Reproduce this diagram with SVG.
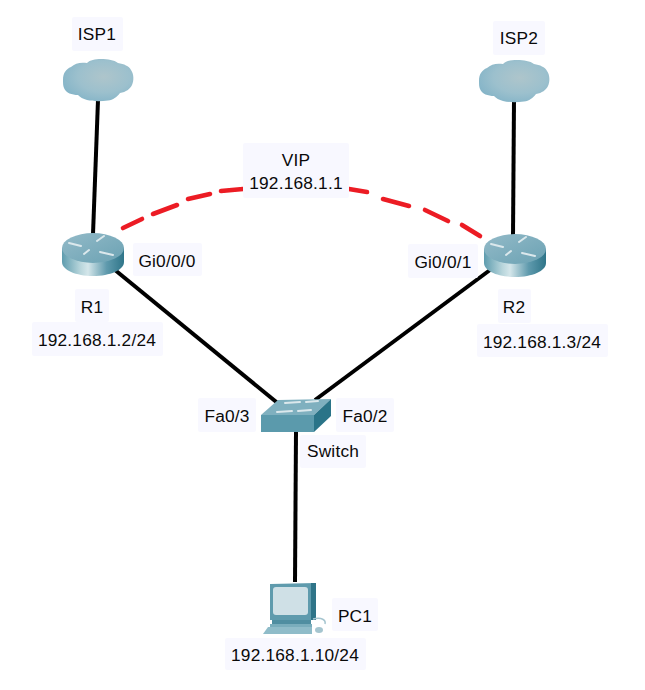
<svg xmlns="http://www.w3.org/2000/svg" width="645" height="690" viewBox="0 0 645 690">
<style>
text{font-family:"Liberation Sans",Arial,sans-serif;font-size:17.3px;fill:#0a0a0a;text-anchor:middle;letter-spacing:.2px}
.lb{fill:#f8f8ff}
.ln{stroke:#000;stroke-width:4;fill:none}
.ha{stroke:#dbe8ec;stroke-width:2;fill:none;stroke-linecap:round}
.dash{stroke:#ec1c24;stroke-width:4.6;stroke-linecap:round;fill:none}
</style>
<defs>
<radialGradient id="cg" cx=".58" cy=".42" r=".62"><stop offset="0" stop-color="#aec5cb"/><stop offset=".6" stop-color="#9cc0cd"/><stop offset="1" stop-color="#86b5c8"/></radialGradient>
<linearGradient id="rs" x1="0" x2="1" y1="0" y2="0"><stop offset="0" stop-color="#5e9cae"/><stop offset=".3" stop-color="#b9d6dc"/><stop offset=".42" stop-color="#d4e6ea"/><stop offset=".72" stop-color="#5f9aad"/><stop offset="1" stop-color="#2f7589"/></linearGradient>
<linearGradient id="rt" x1="0" x2="1" y1="0" y2="1"><stop offset="0" stop-color="#93bac8"/><stop offset="1" stop-color="#6ba2b3"/></linearGradient>
<g id="cloud">
<path fill="url(#cg)" d="M0 21C0 14 3 10 8 8C12 4 18 3 24 4C27 1 32 0 38 0C45 0 51 1 55 4C61 5 66 7 68 11C71 15 71 22 69 26C67 30 63 33 57 34C54 38 50 41 45 41.500C38 42.500 30 42.500 24 41C20 40 17 38 15 36C9 36 3 34 1 29C0 27 0 24 0 21Z"/>
</g>
<g id="router">
<path fill="url(#rs)" d="M0 15V29C0 37 14 43 31 43S62 37 62 29V15Z"/>
<ellipse cx="31" cy="15" rx="31" ry="15" fill="url(#rt)"/>
<path class="ha" d="M7 10L19 13M22 21L27 17M38 19L51 22M35 8L42 3"/>
</g>
</defs>
<g id="connectors">
<path class="ln" d="M98 100L93 234"/>
<path class="ln" d="M514 100L513 236"/>
<path class="ln" d="M115 270L280 405"/>
<path class="ln" d="M490 270L315 400"/>
<path class="ln" d="M296 432L295 582"/>
<path class="dash" d="M123 228L142 219M153 214L177 205M188 199L210 194M221 191L243 189"/>
<path class="dash" d="M349 189L367 192M383 199L409 206M425 210L448 221M462 225L480 236"/>
</g>
<g id="isp1"><rect class="lb" x="72" y="17" width="51" height="34" rx="2"/><text x="97" y="40">ISP1</text><use href="#cloud" x="63" y="59"/></g>
<g id="isp2"><rect class="lb" x="493" y="21" width="52" height="34" rx="2"/><text x="519" y="44">ISP2</text><use href="#cloud" x="479" y="60"/></g>
<g id="vip"><rect class="lb" x="243" y="143" width="106" height="55" rx="2"/><text x="296" y="166">VIP</text><text x="296" y="189">192.168.1.1</text></g>
<g id="r1"><use href="#router" x="62" y="233"/>
<rect class="lb" x="133" y="243" width="69" height="33" rx="2"/><text x="167" y="267">Gi0/0/0</text>
<rect class="lb" x="75" y="289" width="34" height="33" rx="2"/><text x="92" y="313">R1</text>
<rect class="lb" x="32" y="322" width="131" height="34" rx="2"/><text x="97" y="346">192.168.1.2/24</text></g>
<g id="r2"><use href="#router" x="484" y="234"/>
<rect class="lb" x="408" y="244" width="70" height="34" rx="2"/><text x="443" y="268">Gi0/0/1</text>
<rect class="lb" x="498" y="289" width="33" height="34" rx="2"/><text x="514" y="313">R2</text>
<rect class="lb" x="477" y="324" width="131" height="33" rx="2"/><text x="542" y="348">192.168.1.3/24</text></g>
<g id="switch">
<path fill="#7fb0bf" d="M261 415L278 400L331 399L314 415Z"/>
<path fill="#5b9aac" d="M261 415H314V432H261Z"/>
<path fill="#2a7488" d="M314 415L331 399V416L314 432Z"/>
<path class="ha" stroke-width="1.5" d="M285 403L300 402M277 412L292 411M306 402L318 401M298 411L311 410"/>
<rect class="lb" x="198" y="398" width="58" height="34" rx="2"/><text x="227" y="422">Fa0/3</text>
<rect class="lb" x="336" y="398" width="58" height="34" rx="2"/><text x="365" y="422">Fa0/2</text>
<rect class="lb" x="300" y="435" width="66" height="33" rx="2"/><text x="333" y="457">Switch</text></g>
<g id="pc1">
<path fill="#5f9bad" d="M270 584L316 583V620H270Z"/>
<path fill="#2f7488" d="M311 583H316V620H311Z"/>
<rect x="273" y="587" width="35" height="28" rx="3" fill="#cfe0e6"/>
<path fill="#4f8ea1" d="M272 620H311V624H272Z"/>
<path fill="#79adbc" d="M270 624H312V627H270Z"/>
<path fill="#8fbcc9" d="M268 627L312 627V634H263Z"/>
<path d="M313 619C322 617 326 620 325 624" stroke="#a5c5cf" stroke-width="1.5" fill="none"/>
<ellipse cx="319" cy="630" rx="4" ry="3" fill="#a5c5cf"/>
<rect class="lb" x="332" y="598" width="46" height="33" rx="2"/><text x="355" y="622">PC1</text>
<rect class="lb" x="225" y="638" width="141" height="32" rx="2"/><text x="295" y="661">192.168.1.10/24</text></g>
</svg>
